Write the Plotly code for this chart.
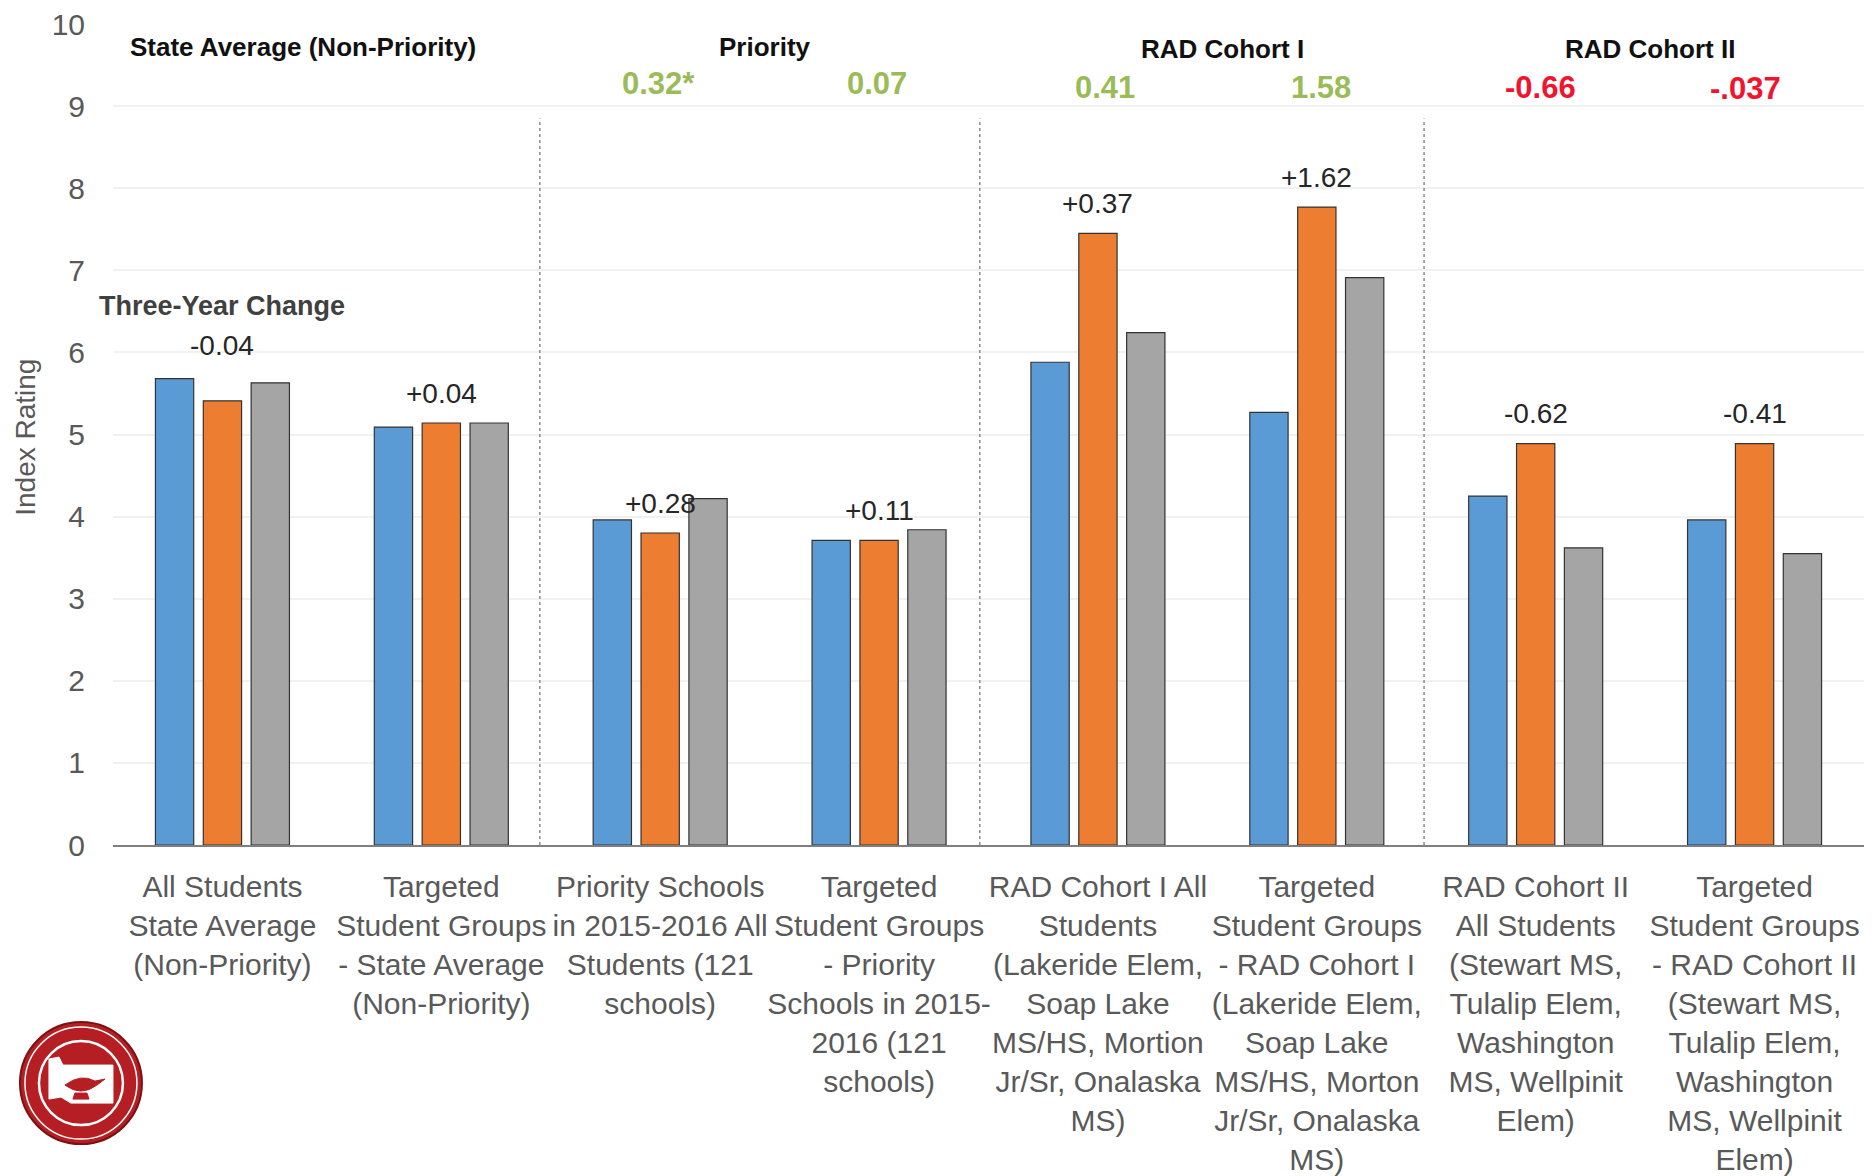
import plotly.graph_objects as go

# ---------------- data ----------------
categories = [
    "All Students<br>State Average<br>(Non-Priority)",
    "Targeted<br>Student Groups<br>- State Average<br>(Non-Priority)",
    "Priority Schools<br>in 2015-2016 All<br>Students (121<br>schools)",
    "Targeted<br>Student Groups<br>- Priority<br>Schools in 2015-<br>2016 (121<br>schools)",
    "RAD Cohort I All<br>Students<br>(Lakeride Elem,<br>Soap Lake<br>MS/HS, Mortion<br>Jr/Sr, Onalaska<br>MS)",
    "Targeted<br>Student Groups<br>- RAD Cohort I<br>(Lakeride Elem,<br>Soap Lake<br>MS/HS, Morton<br>Jr/Sr, Onalaska<br>MS)",
    "RAD Cohort II<br>All Students<br>(Stewart MS,<br>Tulalip Elem,<br>Washington<br>MS, Wellpinit<br>Elem)",
    "Targeted<br>Student Groups<br>- RAD Cohort II<br>(Stewart MS,<br>Tulalip Elem,<br>Washington<br>MS, Wellpinit<br>Elem)",
]
year1 = [5.68, 5.09, 3.96, 3.71, 5.88, 5.27, 4.25, 3.96]
year2 = [5.41, 5.14, 3.80, 3.71, 7.45, 7.77, 4.89, 4.89]
year3 = [5.63, 5.14, 4.22, 3.84, 6.24, 6.91, 3.62, 3.55]
change_labels = ["-0.04", "+0.04", "+0.28", "+0.11", "+0.37", "+1.62", "-0.62", "-0.41"]

group_headers = ["State Average (Non-Priority)", "Priority", "RAD Cohort I", "RAD Cohort II"]
group_values = ["0.32*", "0.07", "0.41", "1.58", "-0.66", "-.037"]
group_value_colors = ["#9BBB59", "#9BBB59", "#9BBB59", "#9BBB59", "#F0142F", "#F0142F"]

series_names = ["Year 1", "Year 2", "Year 3"]
series_colors = ["#5B9BD5", "#ED7D31", "#A5A5A5"]

FONT = "Liberation Sans, Arial, sans-serif"

# ---------------- figure ----------------
fig = go.Figure()
xs = list(range(len(categories)))
for name, vals, col in zip(series_names, [year1, year2, year3], series_colors):
    fig.add_trace(go.Bar(
        x=xs, y=vals, name=name,
        marker=dict(color=col, line=dict(color="#333333", width=1.2)),
    ))

# change labels above each group
for i, lab in enumerate(change_labels):
    base = max(year1[i], year2[i], year3[i]) + 0.40 if i == 0 else year2[i] + 0.36
    fig.add_annotation(x=i, y=base, text=lab, showarrow=False, xref="x", yref="y",
                       font=dict(family=FONT, size=28, color="#262626"))

fig.add_annotation(x=0, y=6.56, text="<b>Three-Year Change</b>", showarrow=False,
                   xref="x", yref="y", font=dict(family=FONT, size=27, color="#404040"))

# group headers
header_x = [0.37, 2.48, 4.57, 6.52]
header_y = [9.72, 9.72, 9.69, 9.69]
for t, hx, hy in zip(group_headers, header_x, header_y):
    fig.add_annotation(x=hx, y=hy, text="<b>" + t + "</b>", showarrow=False, xref="x", yref="y",
                       font=dict(family=FONT, size=26, color="#111111"))

value_x = [1.99, 2.99, 4.03, 5.02, 6.02, 6.96]
value_y = [9.27, 9.27, 9.23, 9.23, 9.23, 9.22]
for t, vx, vy, c in zip(group_values, value_x, value_y, group_value_colors):
    fig.add_annotation(x=vx, y=vy, text="<b>" + t + "</b>", showarrow=False, xref="x", yref="y",
                       font=dict(family=FONT, size=31, color=c))

# dashed separators
for sx in [1.45, 3.46, 5.49]:
    fig.add_shape(type="line", xref="x", yref="y", x0=sx, x1=sx, y0=0, y1=8.85,
                  line=dict(color="#8c8c8c", width=1.5, dash="dot"))

# y-axis title
fig.add_annotation(xref="paper", yref="paper", x=0, y=0.496, xshift=-87, xanchor="center",
                   yanchor="middle", text="Index Rating", textangle=-90, showarrow=False,
                   font=dict(family=FONT, size=28, color="#595959"))

# logo (seal) approximation
cx, cy = -0.0183, -0.29
fig.add_shape(type="circle", xref="paper", yref="paper", xsizemode="pixel", ysizemode="pixel",
              xanchor=cx, yanchor=cy, x0=-61, x1=61, y0=-61, y1=61,
              fillcolor="#B51F24", line=dict(color="#7d1014", width=2))
fig.add_shape(type="circle", xref="paper", yref="paper", xsizemode="pixel", ysizemode="pixel",
              xanchor=cx, yanchor=cy, x0=-56, x1=56, y0=-56, y1=56,
              fillcolor="rgba(0,0,0,0)", line=dict(color="white", width=1.5))
fig.add_shape(type="circle", xref="paper", yref="paper", xsizemode="pixel", ysizemode="pixel",
              xanchor=cx, yanchor=cy, x0=-42, x1=42, y0=-42, y1=42,
              fillcolor="#B51F24", line=dict(color="white", width=2.5))
fig.add_shape(type="path", xref="paper", yref="paper", xsizemode="pixel", ysizemode="pixel",
              xanchor=cx, yanchor=cy,
              path="M -32 24 L -22 26 L -18 18 L 32 18 L 32 -20 L -10 -20 L -20 -14 L -32 -16 Z",
              fillcolor="white", line=dict(color="white", width=1))
fig.add_shape(type="path", xref="paper", yref="paper", xsizemode="pixel", ysizemode="pixel",
              xanchor=cx, yanchor=cy,
              path="M -16 -2 Q 0 -14 16 -2 L 24 4 L 14 2 Q 0 10 -16 -2 Z M -6 -10 L 6 -10 L 8 -16 L -8 -16 Z",
              fillcolor="#B51F24", line=dict(color="#B51F24", width=1))

fig.update_layout(
    width=1874, height=1176,
    margin=dict(l=113, r=10, t=24, b=331),
    paper_bgcolor="white", plot_bgcolor="white",
    barmode="group", bargap=0.344, bargroupgap=0.2,
    showlegend=False,
    font=dict(family=FONT, color="#595959"),
)
fig.update_xaxes(
    tickmode="array", tickvals=xs, ticktext=categories,
    range=[-0.5, len(categories) - 0.5],
    showline=True, linecolor="#7f7f7f", linewidth=1.5,
    showgrid=False, ticks="", tickfont=dict(family=FONT, size=30, color="#595959"),
    tickangle=0, automargin=False, ticklabelstandoff=14,
)
fig.update_yaxes(
    range=[0, 10], dtick=1, showgrid=True, gridcolor="#F1F1F1", gridwidth=1.5,
    zeroline=False, showline=False, ticks="",
    tickfont=dict(family=FONT, size=30, color="#595959"),
    ticklabelstandoff=27, automargin=False,
)

fig.write_html("out.html",
               config={"displayModeBar": False},
               post_script="document.body.style.margin='0';document.body.style.overflow='hidden';")
